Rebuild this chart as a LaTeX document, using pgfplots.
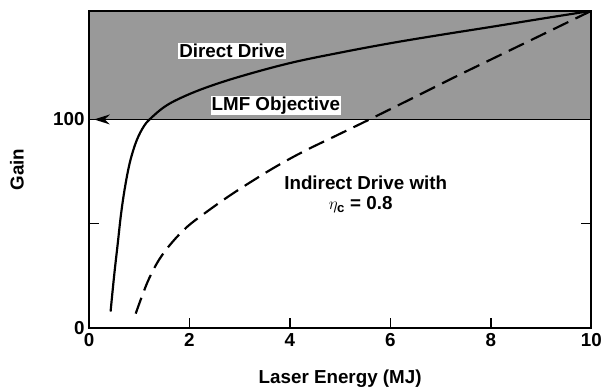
\documentclass[border=0pt]{standalone}
\usepackage{fontspec}
\setmainfont{Liberation Sans}
\usepackage{pgfplots}
\pgfplotsset{compat=1.18}
\usetikzlibrary{arrows.meta}
\begin{document}
\begin{tikzpicture}
\begin{axis}[
  scale only axis, width=508pt, height=321pt,
  xmin=0, xmax=10, ymin=0, ymax=152,
  xtick={0,2,4,6,8,10}, xtick pos=bottom,
  ytick={0,50,100}, yticklabels={0,,100}, ytick pos=both,
  tick align=inside,
  x tick style={line width=1.5pt, black}, major tick length=10pt,
  y tick style={line width=1.2pt, black},
  y tick label style={xshift=-1pt},
  x tick label style={yshift=-2pt},
  axis line style={line width=1.6pt},
  font=\fontsize{19}{22}\selectfont\bfseries,
  tick label style={font=\fontsize{19}{22}\selectfont\bfseries},
  /pgf/number format/assume math mode=true,
  xlabel={Laser Energy (MJ)}, ylabel={Gain},
  xlabel style={at={(axis description cs:0.5,-0.159)}, anchor=center, font=\fontsize{19}{22}\selectfont\bfseries},
  ylabel style={at={(axis description cs:-0.1437,0.5)}, anchor=center, font=\fontsize{19}{22}\selectfont\bfseries},
  clip=true, axis on top,
]
\addplot[draw=none, fill=black!40] coordinates {(0,100) (10,100) (10,152) (0,152)} -- cycle;
\addplot[line width=1.8pt, {Stealth[length=16pt,width=10pt]}-] coordinates {(0.1,100) (10,100)};
\addplot[line width=2.2pt, smooth, tension=0.6] coordinates {
 (0.43,8) (0.5,25) (0.57,40) (0.64,55) (0.72,68) (0.82,80) (0.95,90) (1.1,97)
 (1.25,101) (1.5,106) (1.8,110) (2.3,115) (3,120.5) (4,127) (5,132) (6,136.5) (7,140.5) (8,144.3) (9,148.2) (10,152)};
\addplot[line width=2.2pt, smooth, tension=0.6, dash pattern=on 17pt off 8pt] coordinates {
 (0.93,7) (1.05,15) (1.2,24) (1.4,33) (1.65,41) (1.95,48.5) (2.3,55) (2.8,63.5) (3.35,72)
 (3.8,78.5) (4.3,85) (4.9,92) (5.5,99) (6.3,108.5) (7.3,120.5) (8.2,131) (9.1,141.5) (10,152)};
\node[fill=white, inner sep=1pt] at (axis cs:2.85,132.7) {Direct Drive};
\node[fill=white, inner sep=1pt] at (axis cs:3.72,106.6) {LMF Objective};
\node at (axis cs:5.51,69.7) {Indirect Drive with};
\node at (axis cs:5.41,59) {$\eta_{\mathbf{c}}$ = 0.8};
\end{axis}
\path ([xshift=-90pt,yshift=-62pt]current axis.south west) rectangle ([xshift=7pt,yshift=11pt]current axis.north east);
\end{tikzpicture}
\end{document}
